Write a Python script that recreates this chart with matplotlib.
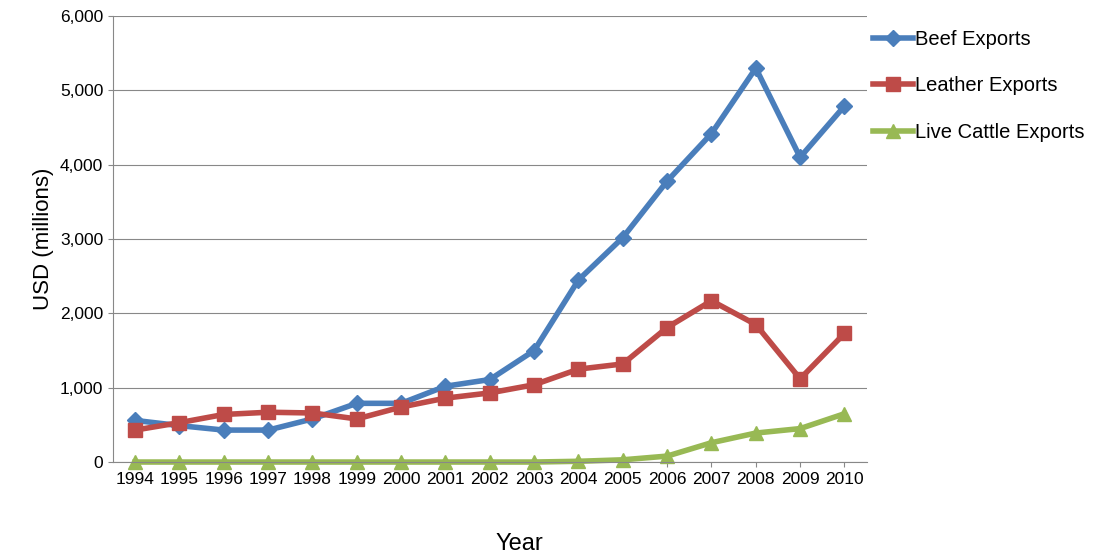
import numpy as np
import matplotlib.pyplot as plt
from matplotlib.ticker import FuncFormatter

years = [str(y) for y in range(1994, 2011)]
beef = [560, 490, 430, 430, 580, 790, 790, 1020, 1110, 1500, 2450, 3020, 3780, 4420, 5300, 4100, 4790]
leather = [430, 530, 640, 670, 660, 580, 740, 860, 930, 1040, 1250, 1320, 1810, 2170, 1850, 1120, 1730]
cattle = [0, 0, 0, 0, 0, 0, 0, 0, 0, 0, 10, 30, 80, 260, 390, 450, 650]

plt.rcParams['font.family'] = ['Liberation Sans', 'DejaVu Sans']

fig = plt.figure(figsize=(10.97, 5.56), dpi=100)
ax = fig.add_axes([0.103, 0.169, 0.687, 0.802])
x = np.arange(len(years))
ax.plot(x, beef, color='#4A7EBB', lw=4, marker='D', ms=8, label='Beef Exports', clip_on=False)
ax.plot(x, leather, color='#BE4B48', lw=4, marker='s', ms=10, label='Leather Exports', clip_on=False)
ax.plot(x, cattle, color='#98B954', lw=4, marker='^', ms=10, label='Live Cattle Exports', clip_on=False)

ax.set_xlim(-0.5, len(years) - 0.5)
ax.set_ylim(0, 6000)
ax.set_yticks(range(0, 6001, 1000))
ax.yaxis.set_major_formatter(FuncFormatter(lambda v, p: f'{int(v):,}'))
ax.set_xticks(x)
ax.set_xticklabels(years)
ax.grid(axis='y', color='#888888', lw=0.8)
ax.set_axisbelow(True)
for s in ['top', 'right']:
    ax.spines[s].set_visible(False)
ax.spines['left'].set_color('#888888')
ax.spines['bottom'].set_color('#888888')
ax.tick_params(labelsize=12.5, color='#888888')
ax.set_ylabel('USD (millions)', fontsize=16)
fig.text(0.473, 0.01, 'Year', fontsize=17, ha='center')
ax.legend(loc='upper left', bbox_to_anchor=(0.99, 1.0), frameon=False, fontsize=14.5,
          handlelength=2.0, handletextpad=0.1, labelspacing=1.35, borderaxespad=0.3)
fig.savefig('out.png', dpi=100)
